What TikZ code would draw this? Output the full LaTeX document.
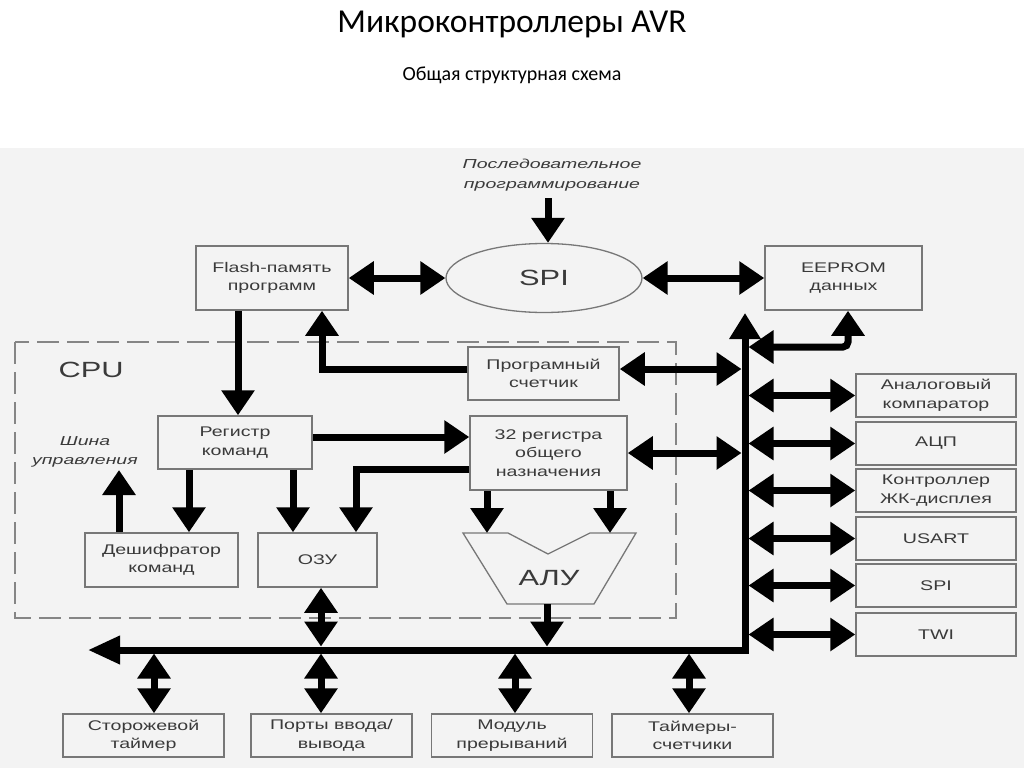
\documentclass[tikz,border=0pt]{standalone}
\usepackage{fontspec}
\usetikzlibrary{arrows.meta,shapes.geometric,calc}
\newfontfamily\df[FakeStretch=1.4]{Liberation Sans}
\newfontfamily\dfi[FakeStretch=1.5]{Liberation Sans}
\newfontfamily\tf{Carlito}
\definecolor{bg}{HTML}{F3F3F3}
\definecolor{bd}{HTML}{777777}
\definecolor{tx}{HTML}{3A3A3A}
\tikzset{
  box/.style={draw=bd, line width=1.5pt, fill=bg, text=tx, align=center,
    font=\df\fontsize{14}{18.5}\selectfont, inner sep=0pt},
  big/.style={text=tx, font=\df\fontsize{22}{26}\selectfont},
  ital/.style={text=tx, align=center, font=\dfi\itshape\fontsize{13}{19.5}\selectfont},
  arr/.style={line width=7pt, line join=miter, -{Triangle[length=25pt,width=32pt]}},
  darr/.style={line width=7pt, line join=miter, {Triangle[length=25pt,width=32pt]}-{Triangle[length=25pt,width=32pt]}},
  busline/.style={line width=7pt, line join=miter, {Triangle[length=26pt,width=30pt]}-{Triangle[length=32pt,width=27pt]}},
  cpuframe/.style={draw=bd!90, line width=1.8pt, dash pattern=on 22pt off 8pt},
}
\begin{document}
\begin{tikzpicture}[x=1pt,y=-1pt]
\useasboundingbox (0,0) rectangle (1024,768);
\fill[white] (0,0) rectangle (1024,148);
\fill[bg] (0,148) rectangle (1024,768);

% titles
\node[anchor=base, font=\tf\fontsize{33.5}{38}\selectfont] (title) at (512,33) {Микроконтроллеры AVR};
\node[anchor=base, font=\tf\fontsize{20}{24}\selectfont] (subtitle) at (512,81) {Общая структурная схема};

% CPU frame
\draw[cpuframe] (15,342) rectangle (676,618);
\node[big, anchor=west] (cpu) at (55,370) {CPU};

% top nodes
\node[box, minimum width=152pt, minimum height=64pt] (flash) at (272,278) {Flash-память\\программ};
\node[box, minimum width=157pt, minimum height=64pt] (eeprom) at (843.5,278) {EEPROM\\данных};
\node[ellipse, draw=bd, line width=1.3pt, fill=bg, minimum width=196pt, minimum height=69pt, inner sep=0pt, big] (spi) at (544,278) {SPI};
\node[ital] (serial) at (552,175) {Последовательное\\программирование};

% CPU internals
\node[box, minimum width=151pt, minimum height=53pt] (pc) at (543.5,373.5) {Програмный\\счетчик};
\node[box, minimum width=154pt, minimum height=53pt] (reg) at (235,442.5) {Регистр\\команд};
\node[box, minimum width=157pt, minimum height=74pt] (gpr) at (548.5,453) {32 регистра\\общего\\назначения};
\node[box, minimum width=153pt, minimum height=54pt] (dec) at (161.5,560) {Дешифратор\\команд};
\node[box, minimum width=119pt, minimum height=54pt] (ram) at (317.5,560) {ОЗУ};
\node[ital] (ctrl) at (85,452) {Шина\\управления};

% ALU
\draw[draw=bd, line width=1.3pt, fill=bg] (463,533) -- (508,533) -- (548,554) -- (590,533) -- (636,533) -- (594,604) -- (507,604) -- cycle;
\node[big] (alu) at (549,578) {АЛУ};

% right peripherals
\node[box, minimum width=160pt, minimum height=43pt] (ac)  at (936,395.5) {Аналоговый\\компаратор};
\node[box, minimum width=160pt, minimum height=43pt] (adc) at (936,443.5) {АЦП};
\node[box, minimum width=160pt, minimum height=43pt] (lcd) at (936,490.5) {Контроллер\\ЖК-дисплея};
\node[box, minimum width=160pt, minimum height=43pt] (usart) at (936,538.5) {USART};
\node[box, minimum width=160pt, minimum height=43pt] (spi2) at (936,585.5) {SPI};
\node[box, minimum width=160pt, minimum height=43pt] (twi) at (936,634.5) {TWI};

% bottom peripherals
\node[box, minimum width=161pt, minimum height=43pt] (wdt) at (143.5,735.5) {Сторожевой\\таймер};
\node[box, minimum width=161pt, minimum height=43pt] (io)  at (331.5,735.5) {Порты ввода/\\вывода};
\node[box, minimum width=161pt, minimum height=43pt] (irq) at (512,735.5) {Модуль\\прерываний};
\node[box, minimum width=161pt, minimum height=43pt] (tmr) at (692.5,735.5) {Таймеры-\\счетчики};

% bus
\coordinate (bt) at (745,313);
\coordinate (bc) at (745,650);
\coordinate (bl) at (88,650);
\draw[busline] (bt) -- (bc) -- (bl);
\coordinate (bxl) at (741.5,0);
\coordinate (bxr) at (748.5,0);
\coordinate (byt) at (0,646.5);
\coordinate (byb) at (0,653.5);

% top connectors
\draw[darr] (flash.east) -- (spi.west);
\draw[darr] (spi.east) -- (eeprom.west);
\coordinate (s1) at (548,198);
\draw[arr] (s1) -- (s1 |- spi.north);

% EEPROM to bus
\coordinate (e1) at (848,347);
\draw[darr, rounded corners=5pt] (e1 -| bxr) -- (e1) -- (eeprom.south -| e1);

% flash -> reg
\coordinate (f1) at (238,0);
\draw[arr] (flash.south -| f1) -- (reg.north -| f1);

% pc -> flash, pc <-> bus
\coordinate (p1) at (322,369);
\draw[arr] (pc.west |- p1) -- (p1) -- (flash.south -| p1);
\draw[darr] (pc.east |- p1) -- (p1 -| bxl);

% reg -> gpr
\coordinate (r1) at (0,437);
\draw[arr] (reg.east |- r1) -- (gpr.west |- r1);

% gpr -> ram
\coordinate (g1) at (356,469);
\draw[arr] (gpr.west |- g1) -- (g1) -- (ram.north -| g1);

% reg -> dec, reg -> ram
\coordinate (d1) at (189,0);
\coordinate (d2) at (293,0);
\draw[arr] (reg.south -| d1) -- (dec.north -| d1);
\draw[arr] (reg.south -| d2) -- (ram.north -| d2);

% dec -> control bus
\coordinate (sh) at (119,470);
\draw[arr] (dec.north -| sh) -- (sh);

% gpr <-> bus
\draw[darr] (gpr.east) -- (gpr.east -| bxl);

% gpr -> alu
\coordinate (a1) at (487,533);
\coordinate (a2) at (610,533);
\draw[arr] (gpr.south -| a1) -- (a1);
\draw[arr] (gpr.south -| a2) -- (a2);

% alu -> bus
\coordinate (a3) at (547,604);
\draw[arr] (a3) -- (a3 |- byt);

% ram <-> bus
\coordinate (o1) at (321,0);
\draw[darr] (ram.south -| o1) -- (o1 |- byt);

% bus <-> right peripherals
\foreach \n in {ac,adc,lcd,usart,spi2,twi}{
  \draw[darr] (\n.west -| bxr) -- (\n.west);
}

% bus <-> bottom peripherals
\coordinate (x1) at (154,0);
\coordinate (x2) at (321,0);
\coordinate (x3) at (515,0);
\coordinate (x4) at (689,0);
\draw[darr] (x1 |- byb) -- (wdt.north -| x1);
\draw[darr] (x2 |- byb) -- (io.north -| x2);
\draw[darr] (x3 |- byb) -- (irq.north -| x3);
\draw[darr] (x4 |- byb) -- (tmr.north -| x4);
\end{tikzpicture}
\end{document}
